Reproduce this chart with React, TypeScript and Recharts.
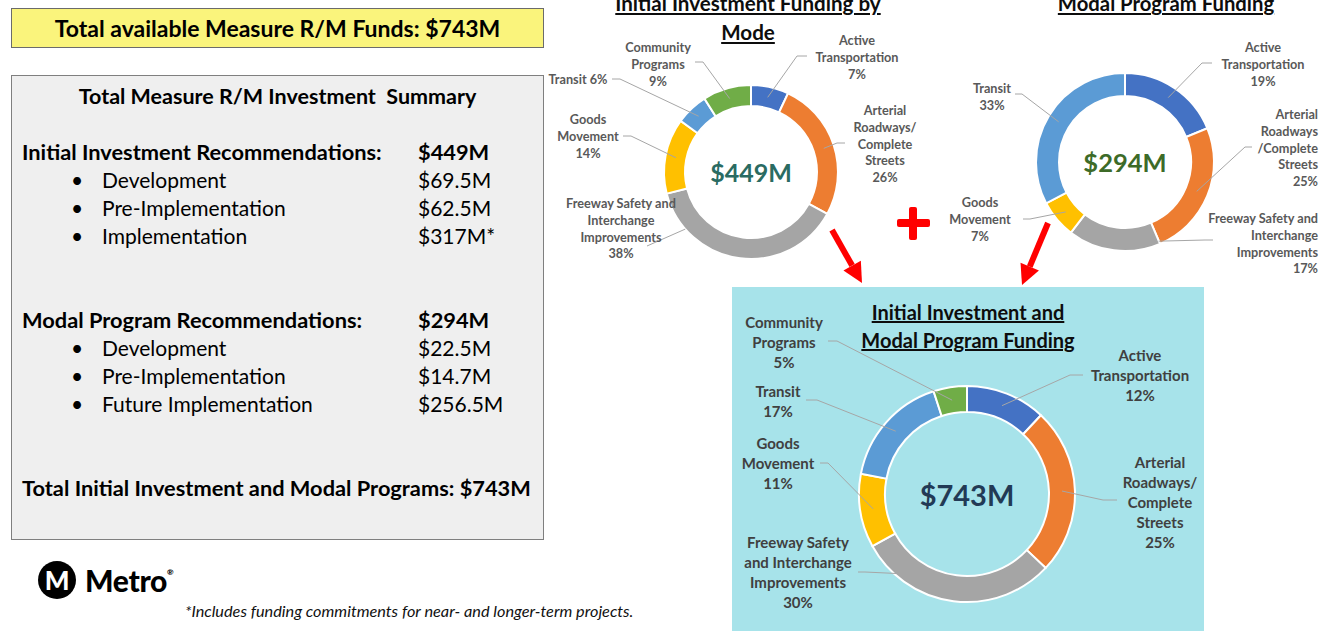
import { PieChart, Pie, Cell } from "recharts";

// categories shared by the three donuts (clockwise from 12 o'clock)
const modes = [
  "Active Transportation",
  "Arterial Roadways/Complete Streets",
  "Freeway Safety and Interchange Improvements",
  "Goods Movement",
  "Transit",
  "Community Programs",
];
const modeColors = ["#4472C4", "#ED7D31", "#A5A5A5", "#FFC000", "#5B9BD5", "#70AD47"];

// percent shares
const initialShares = [7, 26, 38, 14, 6, 9];
const modalShares = [19, 25, 17, 7, 33]; // no community programs slice
const combinedShares = [12, 25, 30, 11, 17, 5];

const initialTotal = "$449M";
const modalTotal = "$294M";
const combinedTotal = "$743M";

// summary panel rows
const initialRows = [
  ["Development", "$69.5M"],
  ["Pre-Implementation", "$62.5M"],
  ["Implementation", "$317M*"],
];
const modalRows = [
  ["Development", "$22.5M"],
  ["Pre-Implementation", "$14.7M"],
  ["Future Implementation", "$256.5M"],
];

const toData = (shares: number[]) =>
  shares.map((v, i) => ({ name: modes[i], value: v, color: modeColors[i] }));

type Callout = {
  lines: string[];
  inline?: boolean;
  tx: number;
  ty: number;
  anchor: "start" | "middle" | "end";
  ex: number;
  ey: number;
  tick: number;
  a?: number;
  r?: number;
};

// label placement, offsets from each pie's centre
const initialCallouts: Callout[] = [
  { lines: ["Active", "Transportation"], tx: 106, ty: -132, anchor: "middle", ex: 46, ey: -116, tick: 56 },
  { lines: ["Arterial", "Roadways/", "Complete", "Streets"], tx: 134, ty: -62, anchor: "middle", ex: 86, ey: -29, tick: 94 },
  { lines: ["Freeway Safety and", "Interchange", "Improvements"], tx: -130, ty: 31, anchor: "middle", ex: -104, ey: 74, tick: -104, a: 221, r: 87 },
  { lines: ["Goods", "Movement"], tx: -163, ty: -53, anchor: "middle", ex: -120, ey: -36, tick: -128 },
  { lines: ["Transit"], inline: true, tx: -173, ty: -93, anchor: "middle", ex: -131, ey: -93, tick: -139 },
  { lines: ["Community", "Programs"], tx: -93, ty: -125, anchor: "middle", ex: -48, ey: -110, tick: -56 },
];
const modalCallouts: Callout[] = [
  { lines: ["Active", "Transportation"], tx: 138, ty: -115, anchor: "middle", ex: 77, ey: -99, tick: 87 },
  { lines: ["Arterial", "Roadways", "/Complete", "Streets"], tx: 193, ty: -48, anchor: "end", ex: 120, ey: -15, tick: 127 },
  { lines: ["Freeway Safety and", "Interchange", "Improvements"], tx: 193, ty: 56, anchor: "end", ex: 80, ey: 78, tick: 88, a: -67, r: 86 },
  { lines: ["Goods", "Movement"], tx: -145, ty: 40, anchor: "middle", ex: -95, ey: 57, tick: -102 },
  { lines: ["Transit"], tx: -133, ty: -74, anchor: "middle", ex: -103, ey: -68, tick: -110 },
];
const combinedCallouts: Callout[] = [
  { lines: ["Active", "Transportation"], tx: 173, ty: -139, anchor: "middle", ex: 103, ey: -119, tick: 116 },
  { lines: ["Arterial", "Roadways/", "Complete", "Streets"], tx: 193, ty: -32, anchor: "middle", ex: 136, ey: 6, tick: 150 },
  { lines: ["Freeway Safety", "and Interchange", "Improvements"], tx: -169, ty: 48, anchor: "middle", ex: -102, ey: 78, tick: -109, a: -130, r: 104 },
  { lines: ["Goods", "Movement"], tx: -189, ty: -51, anchor: "middle", ex: -139, ey: -31, tick: -147 },
  { lines: ["Transit"], tx: -189, ty: -103, anchor: "middle", ex: -150, ey: -94, tick: -161 },
  { lines: ["Community", "Programs"], tx: -183, ty: -172, anchor: "middle", ex: -130, ey: -153, tick: -139 },
];

// slice callouts; the first slice also draws the total in the hole
const makeLabel =
  (
    callouts: Callout[],
    fontSize: number,
    lh: number,
    color: string,
    total: string,
    totalColor: string,
    totalSize: number
  ) =>
  (props: any) => {
    const { cx, cy, midAngle, innerRadius, outerRadius, index, value } = props;
    const c = callouts[index];
    const ang = ((c.a ?? midAngle) * Math.PI) / 180;
    const r = c.r ?? (innerRadius + outerRadius) / 2;
    const px = cx + r * Math.cos(ang);
    const py = cy - r * Math.sin(ang);
    const lines = c.inline ? [`${c.lines[0]} ${value}%`] : [...c.lines, `${value}%`];
    return (
      <g key={`callout-${index}`}>
        {index === 0 && (
          <text
            x={cx}
            y={cy}
            textAnchor="middle"
            dominantBaseline="central"
            fontSize={totalSize}
            fontWeight={700}
            fill={totalColor}
          >
            {total}
          </text>
        )}
        <polyline
          points={`${px},${py} ${cx + c.ex},${cy + c.ey} ${cx + c.tick},${cy + c.ey}`}
          fill="none"
          stroke="#A6A6A6"
          strokeWidth={1}
        />
        {lines.map((t, i) => (
          <text
            key={i}
            x={cx + c.tx}
            y={cy + c.ty + i * lh}
            textAnchor={c.anchor}
            dominantBaseline="central"
            fontSize={fontSize}
            fontWeight={700}
            fill={color}
          >
            {t}
          </text>
        ))}
      </g>
    );
  };

function Arrow({ x1, y1, x2, y2 }: { x1: number; y1: number; x2: number; y2: number }) {
  const dx = x2 - x1;
  const dy = y2 - y1;
  const len = Math.hypot(dx, dy);
  const ux = dx / len;
  const uy = dy / len;
  const head = 20;
  const bx = x2 - ux * head;
  const by = y2 - uy * head;
  const w = 10;
  return (
    <g>
      <line x1={x1} y1={y1} x2={bx} y2={by} stroke="#FF0000" strokeWidth={6} />
      <polygon
        points={`${x2},${y2} ${bx - uy * w},${by + ux * w} ${bx + uy * w},${by - ux * w}`}
        fill="#FF0000"
      />
    </g>
  );
}

const abs = (left: number, top: number, extra: any = {}) => ({
  position: "absolute" as const,
  left,
  top,
  whiteSpace: "nowrap" as const,
  ...extra,
});

export default function App() {
  const rowStyle = { fontSize: 21, lineHeight: "26px", color: "#000" };
  const boldRow = { ...rowStyle, fontSize: 21.8, fontWeight: 700 };
  return (
    <div
      style={{
        position: "absolute",
        left: 0,
        top: 0,
        width: 1323,
        height: 631,
        overflow: "hidden",
        background: "#fff",
        fontFamily: "Lato, 'Open Sans', sans-serif",
      }}
    >
      {/* left summary panel */}
      <div
        style={abs(11, 8, {
          width: 531,
          height: 38,
          background: "#FAF47C",
          border: "1px solid #6B6B6B",
          textAlign: "center",
          fontSize: 23,
          fontWeight: 700,
          lineHeight: "38px",
        })}
      >
        Total available Measure R/M Funds: $743M
      </div>
      <div
        style={abs(11, 75, {
          width: 531,
          height: 463,
          background: "#EFEFEF",
          border: "1px solid #7F7F7F",
        })}
      />
      <div style={abs(11, 83, { ...boldRow, fontSize: 21.5, width: 533, textAlign: "center" })}>
        Total Measure R/M Investment&nbsp; Summary
      </div>
      <div style={abs(22, 139, boldRow)}>Initial Investment Recommendations:</div>
      <div style={abs(418, 139, boldRow)}>{initialTotal}</div>
      {initialRows.map((r, i) => (
        <div key={r[0]}>
          <div style={abs(71, 167 + i * 28, rowStyle)}>•</div>
          <div style={abs(102, 167 + i * 28, rowStyle)}>{r[0]}</div>
          <div style={abs(418, 167 + i * 28, rowStyle)}>{r[1]}</div>
        </div>
      ))}
      <div style={abs(22, 307, boldRow)}>Modal Program Recommendations:</div>
      <div style={abs(418, 307, boldRow)}>{modalTotal}</div>
      {modalRows.map((r, i) => (
        <div key={r[0]}>
          <div style={abs(71, 335 + i * 28, rowStyle)}>•</div>
          <div style={abs(102, 335 + i * 28, rowStyle)}>{r[0]}</div>
          <div style={abs(418, 335 + i * 28, rowStyle)}>{r[1]}</div>
        </div>
      ))}
      <div style={abs(22, 475, boldRow)}>
        Total Initial Investment and Modal Programs: {combinedTotal}
      </div>

      {/* Metro logo and footnote */}
      <div
        style={abs(38, 561, {
          width: 38,
          height: 38,
          borderRadius: 19,
          background: "#000",
          color: "#fff",
          textAlign: "center",
          fontSize: 26,
          fontWeight: 900,
          lineHeight: "38px",
        })}
      >
        M
      </div>
      <div style={abs(85, 562, { fontSize: 30, fontWeight: 900, lineHeight: "36px", letterSpacing: -0.3 })}>
        Metro<span style={{ fontSize: 8, verticalAlign: "top", lineHeight: "20px" }}>®</span>
      </div>
      <div style={abs(185, 601, { fontSize: 16.3, fontStyle: "italic", lineHeight: "20px", color: "#111" })}>
        *Includes funding commitments for near- and longer-term projects.
      </div>

      {/* cyan panel behind the combined donut */}
      <div style={abs(732, 287, { width: 472, height: 360, background: "#A7E3EA" })} />

      <div style={{ position: "absolute", left: 0, top: 0 }}>
        <PieChart width={1323} height={631} margin={{ top: 0, right: 0, bottom: 0, left: 0 }}>
          <Pie
            data={toData(initialShares)}
            dataKey="value"
            nameKey="name"
            cx={751}
            cy={172}
            innerRadius={66}
            outerRadius={87}
            startAngle={90}
            endAngle={-270}
            stroke="#fff"
            strokeWidth={2}
            isAnimationActive={false}
            labelLine={false}
            label={makeLabel(initialCallouts, 12.7, 16.8, "#595959", initialTotal, "#2A6B62", 25)}
          >
            {initialShares.map((_, i) => (
              <Cell key={i} fill={modeColors[i]} />
            ))}
          </Pie>
          <Pie
            data={toData(modalShares)}
            dataKey="value"
            nameKey="name"
            cx={1125}
            cy={162}
            innerRadius={66}
            outerRadius={89}
            startAngle={90}
            endAngle={-270}
            stroke="#fff"
            strokeWidth={2}
            isAnimationActive={false}
            labelLine={false}
            label={makeLabel(modalCallouts, 12.7, 16.8, "#595959", modalTotal, "#3D6B28", 25.5)}
          >
            {modalShares.map((_, i) => (
              <Cell key={i} fill={modeColors[i]} />
            ))}
          </Pie>
          <Pie
            data={toData(combinedShares)}
            dataKey="value"
            nameKey="name"
            cx={967}
            cy={494}
            innerRadius={82}
            outerRadius={108}
            startAngle={90}
            endAngle={-270}
            stroke="#fff"
            strokeWidth={2}
            isAnimationActive={false}
            labelLine={false}
            label={makeLabel(combinedCallouts, 15, 20, "#404040", combinedTotal, "#223A55", 29)}
          >
            {combinedShares.map((_, i) => (
              <Cell key={i} fill={modeColors[i]} />
            ))}
          </Pie>
        </PieChart>
      </div>

      {/* arrows and plus sign */}
      <svg width={1323} height={631} style={{ position: "absolute", left: 0, top: 0 }}>
        <Arrow x1={832} y1={230} x2={862} y2={283} />
        <Arrow x1={1048} y1={223} x2={1022} y2={285} />
        <rect x={897} y={219} width={33} height={8} rx={2} fill="#FF0000" />
        <rect x={909} y={207} width={8} height={33} rx={2} fill="#FF0000" />
      </svg>

      {/* chart titles (the reference crops the top row at the page edge) */}
      <div
        style={abs(588, -11, {
          width: 320,
          textAlign: "center",
          fontSize: 20.6,
          fontWeight: 700,
          lineHeight: "29px",
          textDecoration: "underline",
          whiteSpace: "normal",
          color: "#0D0D0D",
        })}
      >
        Initial Investment Funding by
        <br />
        Mode
      </div>
      <div
        style={abs(1006, -11, {
          width: 320,
          textAlign: "center",
          fontSize: 20.3,
          fontWeight: 700,
          lineHeight: "29px",
          textDecoration: "underline",
          color: "#0D0D0D",
        })}
      >
        Modal Program Funding
      </div>
      <div
        style={abs(808, 298, {
          width: 320,
          textAlign: "center",
          fontSize: 20,
          fontWeight: 700,
          lineHeight: "28px",
          textDecoration: "underline",
          whiteSpace: "normal",
          color: "#0D0D0D",
        })}
      >
        Initial Investment and
        <br />
        Modal Program Funding
      </div>
    </div>
  );
}
